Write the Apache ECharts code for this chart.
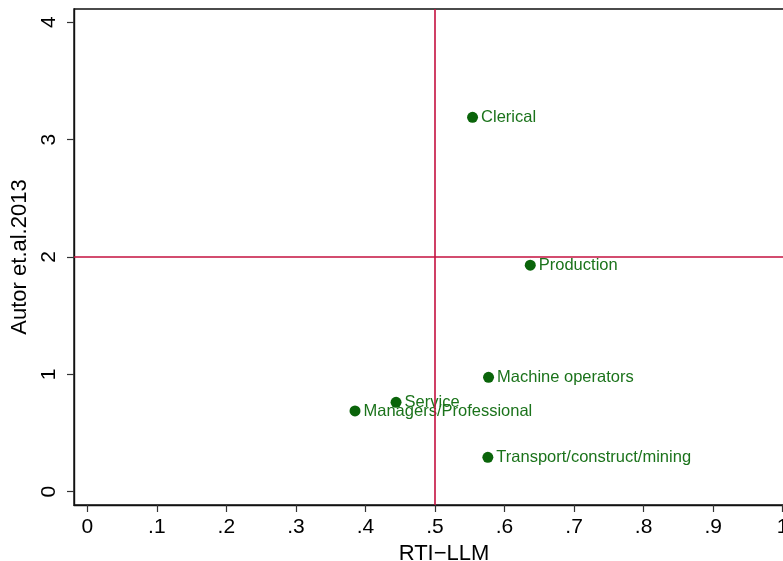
<!DOCTYPE html>
<html>
<head>
<meta charset="utf-8">
<title>RTI-LLM vs Autor et al. 2013</title>
<script src="https://cdn.jsdelivr.net/npm/echarts@6/dist/echarts.min.js"></script>
<style>
  html, body { margin: 0; padding: 0; background: #fff; }
  #chart { width: 783px; height: 561px; }
</style>
</head>
<body>
<div id="chart"></div>
<script>
// Occupation groups and their two task-routineness scores
const occupations = ['Clerical', 'Production', 'Machine operators', 'Service', 'Managers/Professional', 'Transport/construct/mining'];
const rtiLlm = [0.554, 0.637, 0.577, 0.444, 0.385, 0.576];
const autor2013 = [3.19, 1.93, 0.975, 0.762, 0.688, 0.293];

// Axis ticks and reference lines
const xTicks = [0, 0.1, 0.2, 0.3, 0.4, 0.5, 0.6, 0.7, 0.8, 0.9, 1];
const yTicks = [0, 1, 2, 3, 4];
const xRef = 0.5;
const yRef = 2;

const FONT = '"Liberation Sans", Arial, Helvetica, sans-serif';
const RED = '#c4103f';
const GREEN = '#0a640a';

function fmtX(v) {
  const s = String(Math.round(v * 10) / 10);
  return s.startsWith('0.') ? s.slice(1) : s;
}

const points = occupations.map((name, i) => ({ name: name, value: [rtiLlm[i], autor2013[i]] }));

const chart = echarts.init(document.getElementById('chart'), null, { renderer: 'canvas' });
chart.setOption({
  animation: false,
  backgroundColor: '#ffffff',
  grid: {
    left: 74, top: 9, width: 740, height: 496,
    containLabel: false,
    outerBoundsMode: 'none',
    show: true, borderColor: '#111', borderWidth: 1.4, backgroundColor: 'transparent'
  },
  xAxis: {
    type: 'value',
    min: -0.0191, max: 1.045,
    name: 'RTI\u2212LLM',
    nameLocation: 'middle',
    nameGap: 35,
    nameTextStyle: { fontFamily: FONT, fontSize: 22, color: '#000', verticalAlign: 'top' },
    axisLine: { show: true, onZero: false, lineStyle: { color: '#111', width: 1.4 } },
    axisTick: { show: true, length: 7, customValues: xTicks, lineStyle: { color: '#333', width: 1.2 } },
    axisLabel: { show: true, customValues: xTicks, formatter: fmtX, margin: 12, fontFamily: FONT, fontSize: 21, color: '#000' },
    splitLine: { show: false }
  },
  yAxis: {
    type: 'value',
    min: -0.1133, max: 4.113,
    name: 'Autor et.al.2013',
    nameLocation: 'middle',
    nameGap: 41,
    nameRotate: 90,
    nameTextStyle: { fontFamily: FONT, fontSize: 22, color: '#000' },
    axisLine: { show: true, onZero: false, lineStyle: { color: '#111', width: 1.4 } },
    axisTick: { show: true, length: 7, customValues: yTicks, lineStyle: { color: '#333', width: 1.2 } },
    axisLabel: { show: true, customValues: yTicks, rotate: 90, margin: 14, fontFamily: FONT, fontSize: 21, color: '#000' },
    splitLine: { show: false }
  },
  series: [{
    type: 'scatter',
    data: points,
    symbol: 'circle',
    symbolSize: 11,
    itemStyle: { color: GREEN, opacity: 1 },
    label: {
      show: true,
      position: 'right',
      distance: 3,
      formatter: p => p.name,
      fontFamily: FONT,
      fontSize: 16.5,
      color: '#1b731b'
    },
    labelLayout: { hideOverlap: false },
    markLine: {
      silent: true,
      symbol: ['none', 'none'],
      label: { show: false },
      lineStyle: { color: RED, width: 1.6, type: 'solid' },
      data: [{ xAxis: xRef }, { yAxis: yRef }]
    },
    z: 3
  }]
});
</script>
</body>
</html>
